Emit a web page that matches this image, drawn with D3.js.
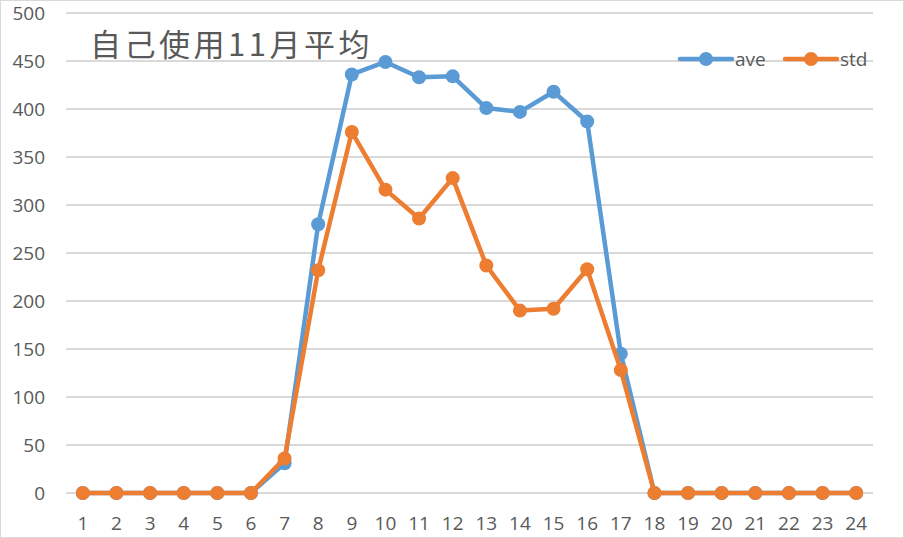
<!DOCTYPE html>
<html>
<head>
<meta charset="utf-8">
<style>
  body { margin: 0; background: #fff; }
  svg { display: block; font-family: "Open Sans", "Noto Sans", sans-serif; }
  .grid line { stroke: #d9d9d9; stroke-width: 1.3; shape-rendering: crispEdges; }
  .tick-label { fill: #595959; font-size: 19px; }
</style>
</head>
<body>
<svg width="904" height="538"></svg>
<script src="https://d3js.org/d3.v7.min.js"></script>
<script>
var hours = ["1","2","3","4","5","6","7","8","9","10","11","12","13","14","15","16","17","18","19","20","21","22","23","24"];
var aveValues = [0,0,0,0,0,0,31,280,436,449,433,434,401,397,418,387,145,0,0,0,0,0,0,0];
var stdValues = [0,0,0,0,0,0,36,232,376,316,286,328,237,190,192,233,128,0,0,0,0,0,0,0];
var yTicks = [0,50,100,150,200,250,300,350,400,450,500];
var chartTitle = "自己使用11月平均";

var series = [
  {name: "ave", values: aveValues, color: "#5b9bd5"},
  {name: "std", values: stdValues, color: "#ed7d31"}
];

var svg = d3.select("svg");

// chart border
svg.append("rect")
  .attr("x", 0.5).attr("y", 0.5)
  .attr("width", 903).attr("height", 537)
  .attr("fill", "#fff")
  .attr("stroke", "#d9d9d9");

var x = d3.scaleBand().domain(hours).range([66, 873]).padding(0);
var y = d3.scaleLinear().domain([0, 500]).range([493, 13]);
var cx = function(d) { return x(d) + x.bandwidth() / 2; };

// gridlines
svg.append("g").attr("class", "grid")
  .selectAll("line").data(yTicks).enter().append("line")
  .attr("x1", 66).attr("x2", 873)
  .attr("y1", function(d) { return y(d); })
  .attr("y2", function(d) { return y(d); });

// y labels
svg.append("g").selectAll("text").data(yTicks).enter().append("text")
  .attr("class", "tick-label")
  .attr("x", 45)
  .attr("y", function(d) { return y(d); })
  .attr("dy", "0.35em")
  .attr("text-anchor", "end")
  .text(function(d) { return d; });

// x labels
svg.append("g").selectAll("text").data(hours).enter().append("text")
  .attr("class", "tick-label")
  .attr("x", cx)
  .attr("y", 523)
  .attr("dy", "0.35em")
  .attr("text-anchor", "middle")
  .text(function(d) { return d; });

var line = d3.line()
  .x(function(d, i) { return cx(hours[i]); })
  .y(function(d) { return y(d); });

var sg = svg.selectAll("g.series").data(series).enter().append("g").attr("class", "series");

sg.append("path")
  .attr("fill", "none")
  .attr("stroke", function(d) { return d.color; })
  .attr("stroke-width", 4.5)
  .attr("stroke-linejoin", "round")
  .attr("d", function(d) { return line(d.values); });

sg.selectAll("circle")
  .data(function(d) { return d.values.map(function(v, i) { return {v: v, i: i, color: d.color}; }); })
  .enter().append("circle")
  .attr("cx", function(d) { return cx(hours[d.i]); })
  .attr("cy", function(d) { return y(d.v); })
  .attr("r", 7)
  .attr("fill", function(d) { return d.color; });

// title
svg.append("text")
  .attr("x", 90).attr("y", 56)
  .attr("fill", "#595959")
  .attr("font-size", 31)
  .attr("letter-spacing", 3.5)
  .attr("font-family", "'Noto Sans CJK SC', sans-serif")
  .text(chartTitle);

// legend
var legend = svg.append("g").selectAll("g").data(series).enter().append("g")
  .attr("transform", function(d, i) { return "translate(" + (680 + i * 105) + ",59)"; });

legend.append("line")
  .attr("x1", 0).attr("x2", 52)
  .attr("stroke", function(d) { return d.color; })
  .attr("stroke-width", 4.5)
  .attr("stroke-linecap", "round");

legend.append("circle")
  .attr("cx", 26).attr("r", 7)
  .attr("fill", function(d) { return d.color; });

legend.append("text")
  .attr("class", "tick-label")
  .attr("x", 55)
  .attr("dy", "0.35em")
  .text(function(d) { return d.name; });
</script>
</body>
</html>
